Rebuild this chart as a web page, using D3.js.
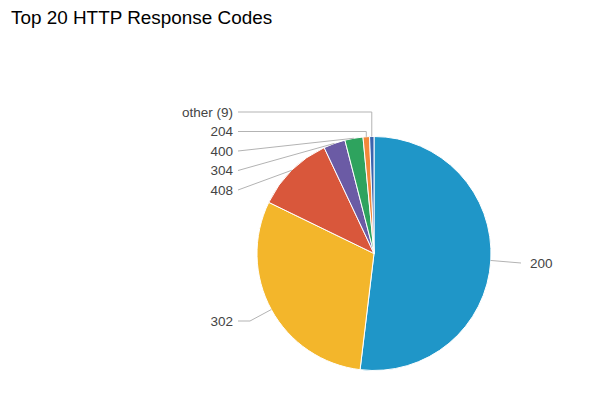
<!DOCTYPE html>
<html><head><meta charset="utf-8">
<script src="https://cdn.jsdelivr.net/npm/d3@7/dist/d3.min.js"></script>
<style>body{margin:0;background:#fff;}svg{display:block;font-family:Arial,"Liberation Sans",sans-serif;}</style>
</head><body>
<svg id="chart" width="600" height="394"></svg>
<script>
const categories = ["200", "302", "408", "304", "400", "204", "other (9)"];
const values = [51.9, 30.3, 10.8, 3.0, 2.5, 0.9, 0.6];
const colors = ["#1f96c8", "#f3b62b", "#d9573b", "#6b5ba5", "#2ea35e", "#f2883a", "#3b63ad"];

const svg = d3.select("#chart");
const W = 600, H = 394;
const cx = 374, cy = 253.5, R = 117;

svg.append("text").attr("x", 11).attr("y", 24)
  .attr("font-size", 18.9).attr("fill", "#000").text("Top 20 HTTP Response Codes");

const data = categories.map((c, i) => ({ cat: c, value: values[i], color: colors[i] }));
const pie = d3.pie().value(d => d.value).sort(null);
const arcs = pie(data);
const arc = d3.arc().innerRadius(0).outerRadius(R);

const g = svg.append("g").attr("transform", `translate(${cx},${cy})`);
g.selectAll("path").data(arcs).join("path")
  .attr("d", arc).attr("fill", d => d.data.color)
  .attr("stroke", "#fff").attr("stroke-width", 1);

// label layout
const leftX = 233, leftLine = 238, rightLine = 521, rightX = 530;
const leftStackTop = 112, step = 19.5;
const stackOrder = ["other (9)", "204", "400", "304", "408"];
const labelY = {};
stackOrder.forEach((c, i) => labelY[c] = leftStackTop + i * step);
labelY["302"] = 321;
labelY["200"] = 263;

arcs.forEach(a => {
  const m = (a.startAngle + a.endAngle) / 2;
  const px = cx + R * Math.sin(m), py = cy - R * Math.cos(m);
  const right = px > cx + 5;
  const ly = labelY[a.data.cat];
  let pts;
  if (right) {
    pts = [[px, py], [rightLine, ly]];
  } else if (ly < py - 3 && Math.abs(px - cx) < 15) {
    pts = [[leftLine, ly], [px, ly], [px, py]];
  } else if (py > cy) {
    pts = [[leftLine, ly], [leftLine + 12, ly], [px, py]];
  } else {
    pts = [[leftLine, ly], [px, py]];
  }
  svg.append("path").attr("d", d3.line()(pts))
    .attr("fill", "none").attr("stroke", "#b3b3b3").attr("stroke-width", 1);
  svg.append("text")
    .attr("x", right ? rightX : leftX).attr("y", ly)
    .attr("dy", "0.36em")
    .attr("text-anchor", right ? "start" : "end")
    .attr("font-size", 13.5).attr("fill", "#444")
    .text(a.data.cat);
});
</script>
</body></html>
